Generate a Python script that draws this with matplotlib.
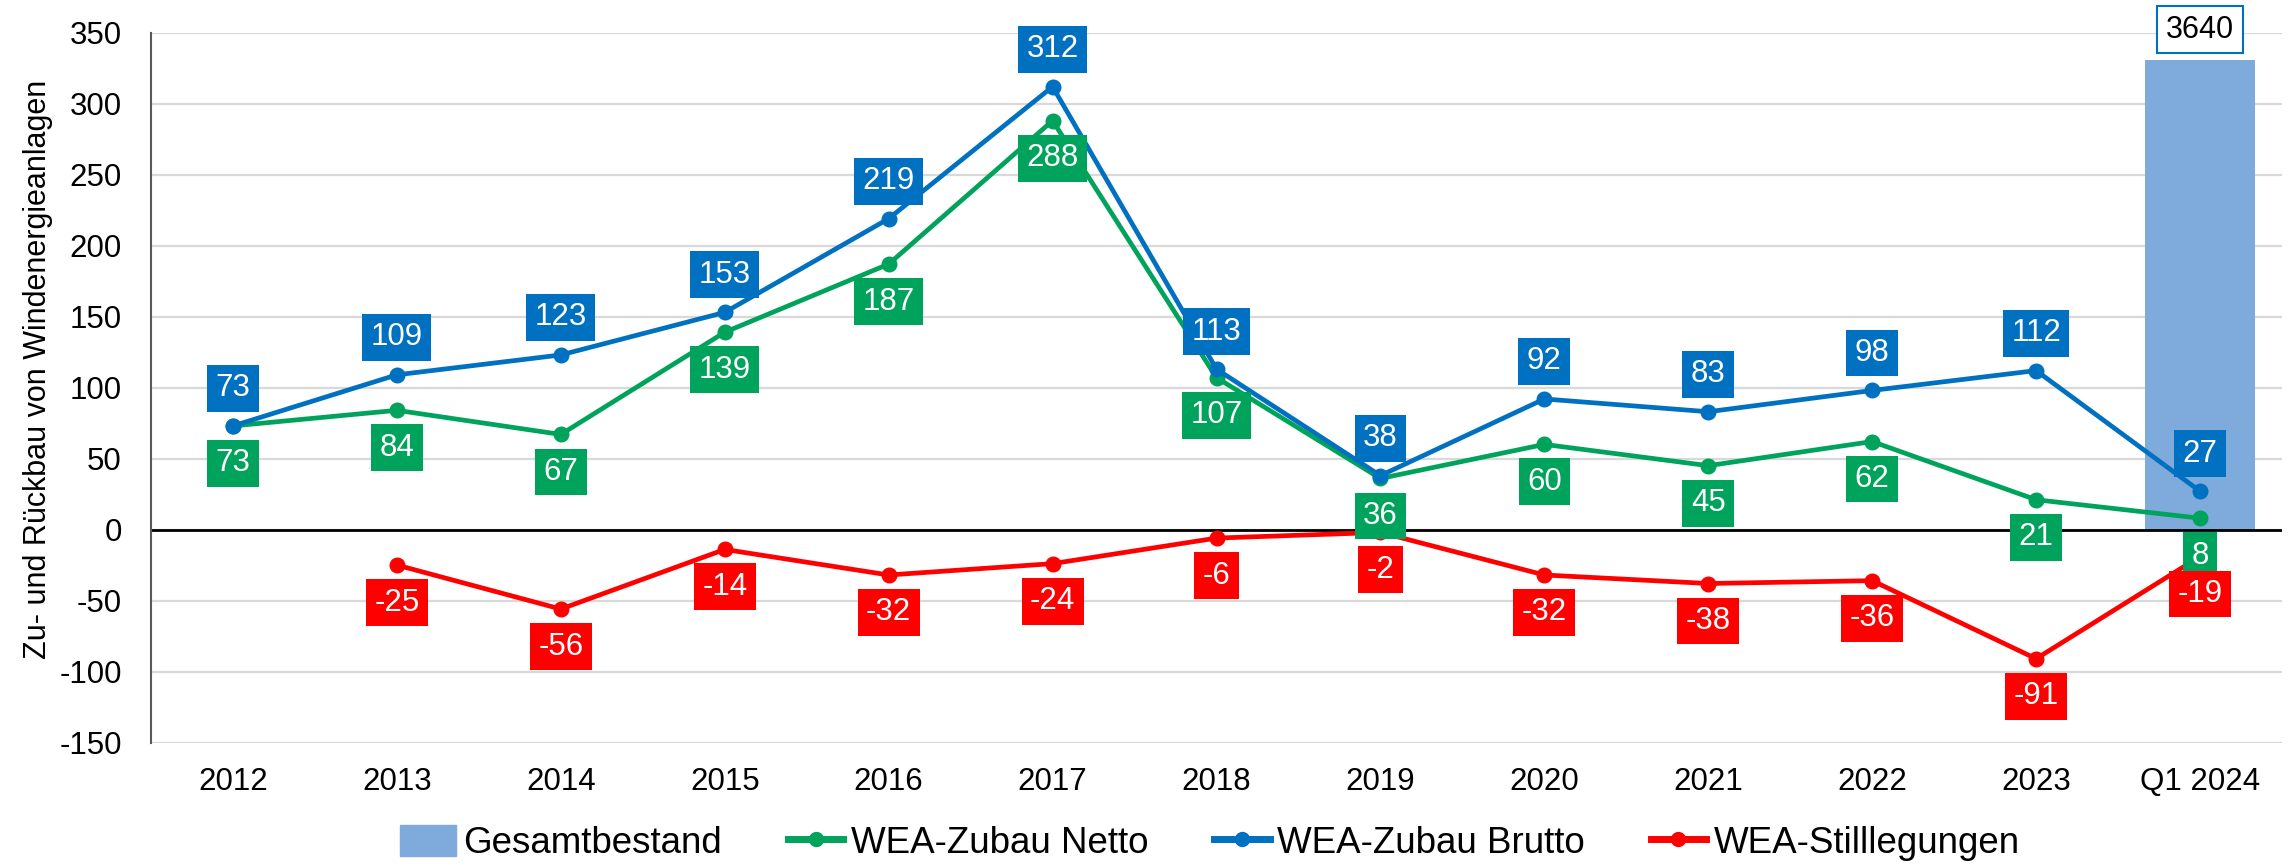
import numpy as np
import matplotlib
matplotlib.use("Agg")
import matplotlib.pyplot as plt
from matplotlib.patches import Patch
from matplotlib.lines import Line2D

plt.rcParams['font.family'] = ['Liberation Sans', 'DejaVu Sans']

categories = ["2012", "2013", "2014", "2015", "2016", "2017", "2018", "2019",
              "2020", "2021", "2022", "2023", "Q1 2024"]
netto = [73, 84, 67, 139, 187, 288, 107, 36, 60, 45, 62, 21, 8]
brutto = [73, 109, 123, 153, 219, 312, 113, 38, 92, 83, 98, 112, 27]
stilllegungen = [np.nan, -25, -56, -14, -32, -24, -6, -2, -32, -38, -36, -91, -19]
gesamtbestand = [np.nan] * 12 + [3640]
yticks = list(range(-150, 351, 50))

c_green = '#00A35B'
c_blue = '#0070C0'
c_red = '#FF0000'
c_bar = '#7FABDC'

fig = plt.figure(figsize=(22.92, 8.65), dpi=100)
ax = fig.add_axes([151/2292, 1-742.5/865, (2282-151)/2292, (742.5-32.7)/865])
axb = ax.twinx()
ax.set_zorder(2)
axb.set_zorder(1)
ax.patch.set_visible(False)

x = np.arange(len(categories))
ymin, ymax = -150, 350
bar_top = 330.7
k = 3640 / bar_top
axb.set_ylim(ymin * k, ymax * k)
ax.set_ylim(ymin, ymax)
ax.set_xlim(-0.5, len(categories) - 0.5)

# background grid on the back axis (aligned with primary ticks)
axb.set_yticks([t * k for t in yticks])
axb.yaxis.grid(True, color='#D9D9D9', linewidth=1.6)
axb.set_axisbelow(True)
axb.tick_params(right=False, labelright=False, left=False)
for s in axb.spines.values():
    s.set_visible(False)

bars = axb.bar(x, gesamtbestand, width=0.67, color=c_bar, zorder=2)
axb.annotate("3640", xy=(x[-1], gesamtbestand[-1]), xytext=(0, 22),
             textcoords='offset points', ha='center', va='center',
             fontsize=22, color='black', annotation_clip=False,
             bbox=dict(boxstyle='square,pad=0.28', fc='white', ec=c_blue, lw=1.5),
             zorder=10)

ax.axhline(0, color='black', linewidth=2, zorder=1)

lw, ms = 3.4, 10.5
ax.plot(x, netto, color=c_green, lw=lw, marker='o', ms=ms, zorder=3)
ax.plot(x, brutto, color=c_blue, lw=lw, marker='o', ms=ms, zorder=4)
ax.plot(x, stilllegungen, color=c_red, lw=lw, marker='o', ms=ms, zorder=5)

def labels(vals, color, dy, z):
    for xi, v in zip(x, vals):
        if np.isnan(v):
            continue
        ax.annotate(f"{int(v)}", xy=(xi, v), xytext=(0, dy), textcoords='offset points',
                    ha='center', va='center', fontsize=22.5, color='white',
                    bbox=dict(boxstyle='square,pad=0.27', fc=color, ec='none'),
                    zorder=z, annotation_clip=False)

labels(netto, c_green, -27, 6)
labels(brutto, c_blue, 27, 7)
labels(stilllegungen, c_red, -27, 8)

ax.set_xticks(x)
ax.set_xticklabels(categories, fontsize=22.5)
ax.set_yticks(yticks)
ax.set_yticklabels([str(t) for t in yticks], fontsize=22.5)
ax.tick_params(axis='x', length=0, pad=18)
ax.tick_params(axis='y', length=0, pad=21)
for side in ['top', 'right', 'bottom']:
    ax.spines[side].set_visible(False)
ax.spines['left'].set_color('#595959')
ax.spines['left'].set_linewidth(1.5)

fig.text(38/2292, 1-369/865, "Zu- und Rückbau von Windenergieanlagen", rotation=90,
         ha='center', va='center', fontsize=22)

handles = [Patch(color=c_bar),
           Line2D([], [], color=c_green, lw=5, marker='o', ms=10),
           Line2D([], [], color=c_blue, lw=5, marker='o', ms=10),
           Line2D([], [], color=c_red, lw=5, marker='o', ms=10)]
names = ["Gesamtbestand", "WEA-Zubau Netto", "WEA-Zubau Brutto", "WEA-Stilllegungen"]
fig.legend(handles, names, loc='center', bbox_to_anchor=(1210/2292, 1-843/865),
           ncol=4, frameon=False, fontsize=26.5, handlelength=1.5,
           handletextpad=0.2, columnspacing=1.8, handleheight=0.9)

fig.savefig("out.png", dpi=100, facecolor='white')
